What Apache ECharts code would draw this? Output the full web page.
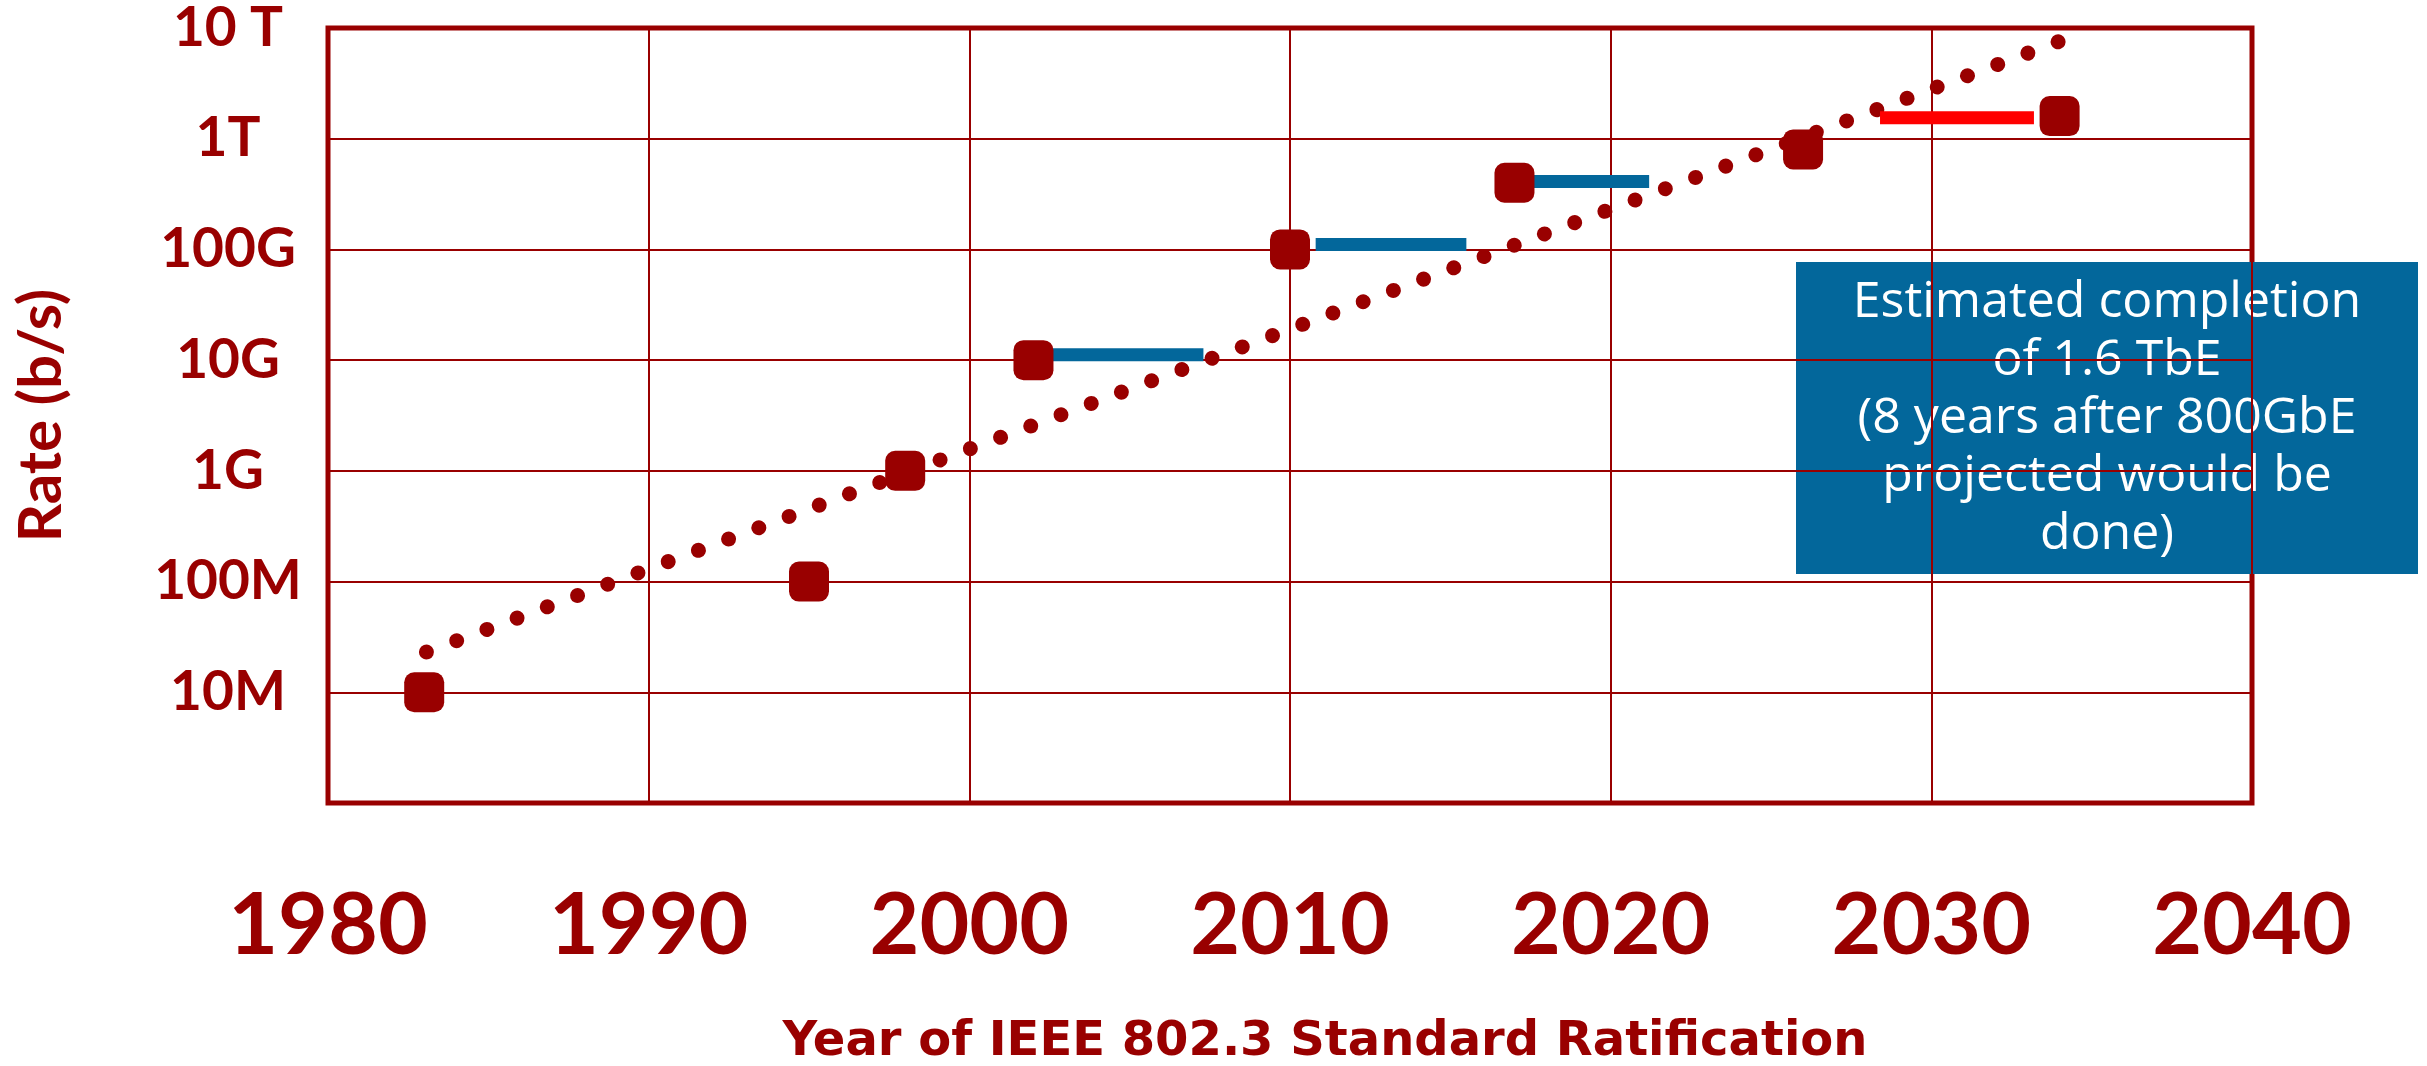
<!DOCTYPE html>
<html>
<head>
<meta charset="utf-8">
<title>Ethernet rate by year of IEEE 802.3 ratification</title>
<script src="https://cdn.jsdelivr.net/npm/echarts@6/dist/echarts.min.js"></script>
<style>
    html, body { margin: 0; padding: 0; background: #fff; }
    #chart { width: 2427px; height: 1066px; }
</style>
</head>
<body>
<div id="chart"></div>
<script>
    // standards (year ratified, rate in b/s)
    var stdYears = [1983, 1995, 1998, 2002, 2010, 2017, 2026, 2034];
    var stdRates = [1e7, 1e8, 1e9, 1e10, 1e11, 4e11, 8e11, 1.6e12];

    // blue bars: start year, end year, rate
    var barStarts = [2002.6, 2010.8, 2017.5];
    var barEnds = [2007.3, 2015.5, 2021.2];
    var barRates = [1.12e10, 1.11e11, 4.1e11];

    // red bar (1.6T)
    var redYears = [2028.4, 2033.2];
    var redRate = 1.55e12;

    // dotted trend, first and last dot
    var trendYears = [1983.07, 2033.98];
    var trendRates = [2.31e7, 7.55e12];

    var xTicks = [1980, 1990, 2000, 2010, 2020, 2030, 2040];
    // labels for 10^6 .. 10^13
    var yTickLabels = ['', '10M', '100M', '1G', '10G', '100G', '1T', '10 T'];

    var noteLines = ['Estimated completion', 'of 1.6 TbE', '(8 years after 800GbE', 'projected would be', 'done)'];

    var darkRed = '#990000';
    var blue = '#03679b';

    var chart = echarts.init(document.getElementById('chart'));

    var series = [];
    // trend line as round dots
    series.push({
        type: 'line',
        data: trendYears.map(function (y, i) { return [y, trendRates[i]]; }),
        symbol: 'none',
        lineStyle: { color: darkRed, width: 15, type: [0.01, 32.25], cap: 'round' },
        z: 2
    });
    barStarts.forEach(function (s, i) {
        series.push({
            type: 'line',
            data: [[s, barRates[i]], [barEnds[i], barRates[i]]],
            symbol: 'none',
            lineStyle: { color: blue, width: 13, cap: 'butt' },
            z: 3
        });
    });
    series.push({
        type: 'line',
        data: [[redYears[0], redRate], [redYears[1], redRate]],
        symbol: 'none',
        lineStyle: { color: '#ff0000', width: 13, cap: 'butt' },
        z: 3
    });
    series.push({
        type: 'scatter',
        data: stdYears.map(function (y, i) { return [y, stdRates[i]]; }),
        symbol: 'roundRect',
        symbolSize: 40,
        itemStyle: { color: darkRed, opacity: 1 },
        z: 4
    });

    var option = {
        animation: false,
        grid: {
            left: 328, right: 175, top: 28, bottom: 263,
            show: true,
            borderColor: darkRed,
            borderWidth: 5,
            outerBoundsMode: 'none'
        },
        xAxis: {
            type: 'value',
            min: 1980, max: 2040, interval: 10,
            name: 'Year of IEEE 802.3 Standard Ratification',
            nameLocation: 'middle',
            nameGap: 216,
            nameTextStyle: {
                color: darkRed, fontFamily: 'DejaVu Sans', fontWeight: 'bold', fontSize: 48,
                padding: [0, 0, 0, 70]
            },
            axisLine: { show: false },
            axisTick: { show: false },
            axisLabel: {
                margin: 80,
                color: darkRed, fontFamily: 'Lato', fontWeight: 'bold', fontSize: 86,
                formatter: function (v) { return xTicks.indexOf(v) >= 0 ? String(v) : ''; }
            },
            splitLine: { show: true, lineStyle: { color: darkRed, width: 2 } }
        },
        yAxis: {
            type: 'log',
            logBase: 10,
            min: 1e6, max: 1e13,
            name: 'Rate (b/s)',
            nameLocation: 'middle',
            nameGap: 256,
            nameTextStyle: { color: darkRed, fontFamily: 'Lato', fontWeight: 'bold', fontSize: 60 },
            axisLine: { show: false },
            axisTick: { show: false },
            axisLabel: {
                margin: 100,
                align: 'center',
                color: darkRed, fontFamily: 'Lato', fontWeight: 'bold', fontSize: 55,
                formatter: function (v) {
                    var e = Math.round(Math.log10(v));
                    return yTickLabels[e - 6] || '';
                }
            },
            splitLine: { show: true, lineStyle: { color: darkRed, width: 2 } }
        },
        graphic: [{
            type: 'group',
            left: 1796,
            top: 262,
            z: 10,
            children: [{
                type: 'rect',
                shape: { x: 0, y: 0, width: 622, height: 312 },
                style: { fill: blue }
            }, {
                type: 'text',
                x: 311,
                y: 157,
                style: {
                    text: noteLines.join('\n'),
                    fill: '#ffffff',
                    fontFamily: 'Open Sans',
                    fontWeight: 400,
                    fontSize: 50,
                    lineHeight: 58,
                    align: 'center',
                    verticalAlign: 'middle'
                }
            }]
        }],
        series: series
    };

    chart.setOption(option);
</script>
</body>
</html>
